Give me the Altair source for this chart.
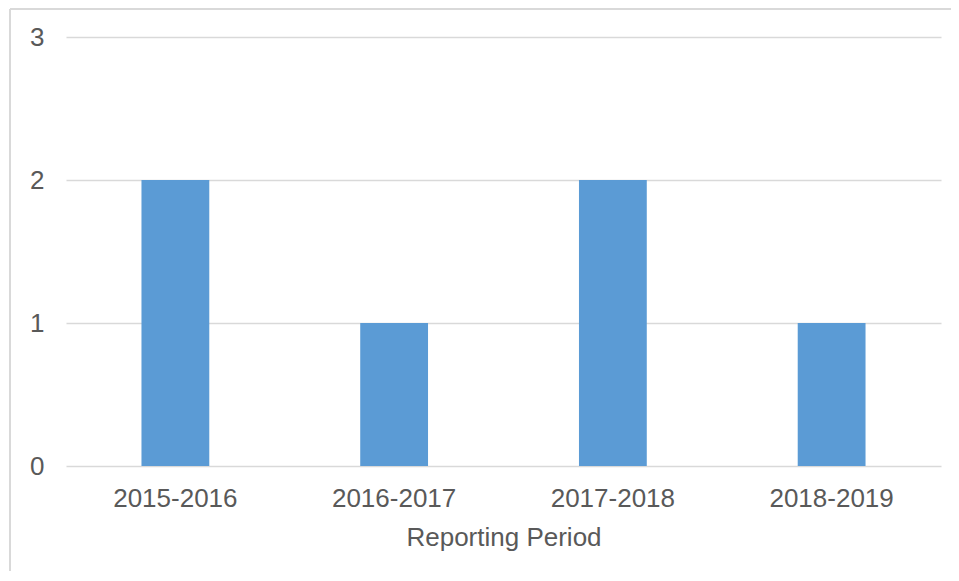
import altair as alt
import pandas as pd

periods = ["2015-2016", "2016-2017", "2017-2018", "2018-2019"]
counts = [2, 1, 2, 1]

df = pd.DataFrame({"period": periods, "count": counts})

FONT = "Liberation Sans"
TXT = "#595959"
GRID = "#d9d9d9"

bars = alt.Chart(df).mark_bar(color="#5B9BD5").encode(
    x=alt.X("period:N", sort=periods,
            scale=alt.Scale(paddingInner=0.69, paddingOuter=0.345),
            axis=alt.Axis(title="Reporting Period", labelAngle=0, ticks=False,
                          domain=False, labelPadding=19, titlePadding=13,
                          labelFontSize=26, titleFontSize=26,
                          labelColor=TXT, titleColor=TXT,
                          labelFont=FONT, titleFont=FONT, titleFontWeight="normal")),
    y=alt.Y("count:Q", scale=alt.Scale(domain=[0, 3]),
            axis=alt.Axis(title=None, values=[0, 1, 2, 3], format="d",
                          ticks=False, domain=False, labelPadding=22,
                          labelFontSize=26, labelColor=TXT, labelFont=FONT,
                          gridColor=GRID, gridWidth=1.5)),
)

border_top = alt.Chart(df).mark_rule(color=GRID, strokeWidth=2).encode(
    x=alt.value(-56), x2=alt.value(890), y=alt.value(-28)
)
border_left = alt.Chart(df).mark_rule(color=GRID, strokeWidth=2).encode(
    x=alt.value(-56), y=alt.value(-28), y2=alt.value(540)
)

chart = alt.layer(bars, border_top, border_left).properties(
    width=875, height=429,
    autosize=alt.AutoSizeParams(type="none"),
    padding={"left": 58, "top": 29, "right": 10, "bottom": 105},
).configure(background="white").configure_view(stroke=None, strokeWidth=0)

chart.save("out.html", embed_options={"renderer": "svg", "actions": False})
